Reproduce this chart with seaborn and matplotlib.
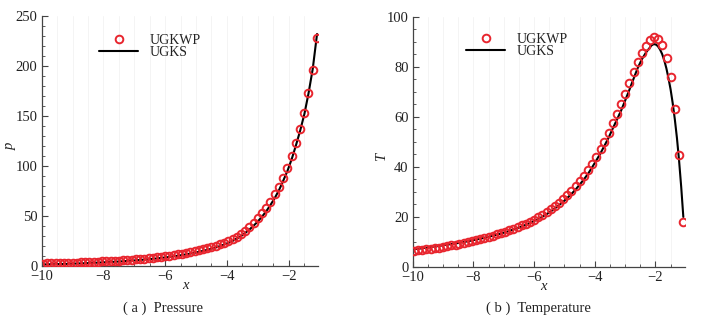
import numpy as np
import pandas as pd
import matplotlib
matplotlib.use("Agg")
import matplotlib.pyplot as plt
import seaborn as sns
from matplotlib.lines import Line2D
from matplotlib.ticker import MultipleLocator

# ── data ────────────────────────────────────────────────────────────────
x_grid = [-9.96, -9.82, -9.69, -9.55, -9.41, -9.28, -9.14, -9.00, -8.87, -8.73,
          -8.59, -8.46, -8.32, -8.18, -8.05, -7.91, -7.77, -7.64, -7.50, -7.36,
          -7.23, -7.09, -6.95, -6.82, -6.68, -6.54, -6.41, -6.27, -6.14, -6.00,
          -5.86, -5.73, -5.59, -5.45, -5.32, -5.18, -5.04, -4.91, -4.77, -4.63,
          -4.50, -4.36, -4.22, -4.09, -3.95, -3.81, -3.68, -3.54, -3.41, -3.27,
          -3.13, -3.00, -2.86, -2.72, -2.59, -2.45, -2.31, -2.18, -2.04, -1.90,
          -1.77, -1.63, -1.49, -1.36, -1.22, -1.08]

p_ugkwp = [2.5, 2.6, 2.7, 2.8, 2.9, 3.0, 3.2, 3.3, 3.5, 3.6,
           3.8, 4.0, 4.2, 4.4, 4.6, 4.8, 5.0, 5.3, 5.5, 5.8,
           6.1, 6.4, 6.8, 7.1, 7.5, 7.9, 8.3, 8.8, 9.3, 9.8,
           10.4, 11.0, 11.7, 12.4, 13.1, 13.9, 14.8, 15.7, 16.7, 17.8,
           19.0, 20.3, 21.8, 23.4, 25.2, 27.2, 29.4, 32.0, 35.3, 39.0,
           43.3, 47.7, 52.7, 58.0, 64.0, 72.0, 79.0, 88.0, 98.0, 110.0,
           123.0, 137.0, 153.0, 173.0, 196.0, 228.0]

p_ugks = [1.6, 1.7, 1.8, 1.9, 2.0, 2.1, 2.2, 2.4, 2.5, 2.7,
          2.8, 3.0, 3.2, 3.4, 3.6, 3.8, 4.0, 4.3, 4.5, 4.8,
          5.1, 5.4, 5.7, 6.1, 6.4, 6.8, 7.2, 7.6, 8.1, 8.6,
          9.1, 9.7, 10.3, 11.0, 11.7, 12.5, 13.3, 14.2, 15.2, 16.2,
          17.3, 18.6, 20.0, 21.5, 23.2, 25.2, 27.5, 30.0, 33.0, 36.5,
          40.5, 44.5, 49.5, 55.0, 61.0, 68.0, 76.0, 85.0, 95.0, 107.0,
          120.0, 135.0, 152.0, 172.0, 197.0, 232.0]

t_ugkwp = [6.4, 6.6, 6.8, 7.0, 7.2, 7.5, 7.7, 8.0, 8.3, 8.6,
           8.9, 9.2, 9.6, 9.9, 10.3, 10.7, 11.1, 11.5, 12.0, 12.5,
           13.0, 13.5, 14.0, 14.6, 15.2, 15.9, 16.6, 17.3, 18.1, 18.9,
           19.8, 20.8, 21.9, 23.1, 24.4, 25.7, 27.2, 28.8, 30.5, 32.4,
           34.4, 36.5, 38.9, 41.3, 44.1, 47.1, 50.1, 53.6, 57.5, 61.1,
           65.3, 69.2, 73.6, 78.1, 82.0, 85.5, 88.4, 90.8, 91.9, 91.3,
           88.8, 83.7, 75.9, 63.3, 44.7, 18.0]

x_t_line = [-9.96, -9.82, -9.69, -9.55, -9.41, -9.28, -9.14, -9.00, -8.87, -8.73,
            -8.59, -8.46, -8.32, -8.18, -8.05, -7.91, -7.77, -7.64, -7.50, -7.36,
            -7.23, -7.09, -6.95, -6.82, -6.68, -6.54, -6.41, -6.27, -6.14, -6.00,
            -5.86, -5.73, -5.59, -5.45, -5.32, -5.18, -5.04, -4.91, -4.77, -4.63,
            -4.50, -4.36, -4.22, -4.09, -3.95, -3.81, -3.68, -3.54, -3.41, -3.27,
            -3.13, -3.00, -2.86, -2.72, -2.59, -2.45, -2.31, -2.18, -2.13, -2.06,
            -1.99, -1.92, -1.85, -1.78, -1.71, -1.64, -1.57, -1.50, -1.43, -1.36,
            -1.29, -1.22, -1.15, -1.08]

t_ugks = [7.1, 7.3, 7.5, 7.7, 8.0, 8.2, 8.4, 8.7, 8.9, 9.2,
          9.4, 9.7, 10.0, 10.3, 10.6, 11.0, 11.3, 11.7, 12.1, 12.5,
          12.9, 13.4, 13.9, 14.4, 15.0, 15.6, 16.2, 16.9, 17.6, 18.4,
          19.2, 20.1, 21.1, 22.2, 23.4, 24.7, 26.1, 27.6, 29.2, 31.0,
          32.9, 35.0, 37.3, 39.8, 42.6, 45.5, 48.5, 51.8, 55.3, 58.9,
          62.6, 66.5, 70.8, 75.3, 79.4, 83.0, 85.8, 87.8, 88.6, 89.1,
          89.0, 88.3, 87.0, 85.2, 82.7, 79.5, 75.5, 71.0, 65.5, 59.0,
          51.5, 42.5, 32.0, 20.0]

RED = "#e8252e"
FS = 10.5
MS = 5.5

sns.set_style("ticks")
plt.rcParams["font.family"] = ["Liberation Serif", "DejaVu Serif"]
plt.rcParams["axes.unicode_minus"] = True

df_p = pd.DataFrame({"x": x_grid, "ugkwp": p_ugkwp, "ugks": p_ugks})
df_t = pd.DataFrame({"x": x_grid, "ugkwp": t_ugkwp})
df_tl = pd.DataFrame({"x": x_t_line, "ugks": t_ugks})

fig = plt.figure(figsize=(7.02, 3.19), dpi=100)
ax1 = fig.add_axes([0.0594, 0.166, 0.394, 0.784])
ax2 = fig.add_axes([0.588, 0.163, 0.388, 0.784])


def style_axis(ax, xmax, ymax, ymajor, yminor, ylabel, ylab_y, xlab_x):
    ax.set_xlim(-10, xmax)
    ax.set_ylim(0, ymax)
    ax.xaxis.set_major_locator(MultipleLocator(2))
    ax.xaxis.set_minor_locator(MultipleLocator(0.5))
    ax.yaxis.set_major_locator(MultipleLocator(ymajor))
    ax.yaxis.set_minor_locator(MultipleLocator(yminor))
    ax.tick_params(which="both", direction="in", colors="#444444",
                   labelcolor="#222222", labelsize=FS, pad=3)
    ax.tick_params(which="major", length=4, width=0.8)
    ax.tick_params(which="minor", length=2, width=0.6)
    ax.spines[["top", "right"]].set_visible(False)
    for s in ("left", "bottom"):
        ax.spines[s].set_color("#444444")
        ax.spines[s].set_linewidth(0.9)
    ax.grid(True, which="both", axis="x", color="#f2f2f2", lw=0.6)
    ax.set_axisbelow(True)
    ax.set_xlabel("")
    ax.set_ylabel("")
    ax.text(xlab_x, -0.05, "x", transform=ax.transAxes, ha="center", va="top",
            fontsize=FS, style="italic", color="#222222")
    ax.text(-0.115, ylab_y, ylabel, transform=ax.transAxes, ha="center",
            va="center", rotation=90, fontsize=FS, style="italic",
            color="#222222")


# ── (a) Pressure ──
sns.lineplot(data=df_p, x="x", y="ugks", ax=ax1, color="black", lw=1.5,
             zorder=2)
sns.lineplot(data=df_p, x="x", y="ugkwp", ax=ax1, linestyle="", marker="o",
             markersize=MS, markerfacecolor="none", markeredgecolor=RED,
             markeredgewidth=1.4, zorder=3)
style_axis(ax1, -1.04, 250, 50, 10, "p", 0.48, 0.52)

# ── (b) Temperature ──
sns.lineplot(data=df_tl, x="x", y="ugks", ax=ax2, color="black", lw=1.5,
             zorder=2)
sns.lineplot(data=df_t, x="x", y="ugkwp", ax=ax2, linestyle="", marker="o",
             markersize=MS, markerfacecolor="none", markeredgecolor=RED,
             markeredgewidth=1.4, zorder=3)
style_axis(ax2, -1.02, 100, 20, 5, "T", 0.44, 0.48)

handles = [
    Line2D([0], [0], linestyle="", marker="o", markersize=MS,
           markerfacecolor="none", markeredgecolor=RED, markeredgewidth=1.4,
           label="UGKWP"),
    Line2D([0], [0], color="black", lw=1.5, label="UGKS"),
]
for ax, anchor in ((ax1, (0.198, 0.94)), (ax2, (0.186, 0.948))):
    leg = ax.legend(handles=handles, loc="upper left", bbox_to_anchor=anchor,
                    frameon=False, fontsize=10, handlelength=2.8,
                    handletextpad=0.86, labelspacing=-0.05, borderpad=0.2,
                    borderaxespad=0)
    for t in leg.get_texts():
        t.set_color("#222222")

fig.text(0.232, 0.035, "( a )  Pressure", ha="center", va="center",
         fontsize=FS, color="#222222")
fig.text(0.767, 0.035, "( b )  Temperature", ha="center", va="center",
         fontsize=FS, color="#222222")

fig.savefig("out.png", dpi=100)
